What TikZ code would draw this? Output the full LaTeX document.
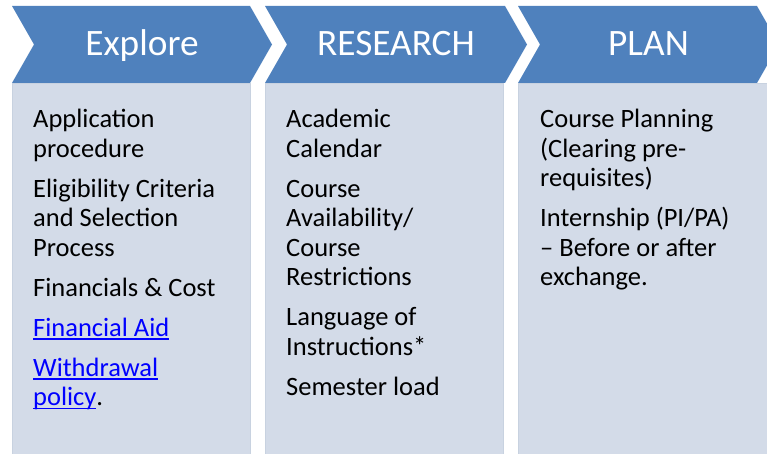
\documentclass[tikz,border=0pt]{standalone}
\usepackage{fontspec}
\setmainfont{Carlito}
\definecolor{chevronblue}{HTML}{4F81BD}
\definecolor{panelfill}{HTML}{D3DBE8}
\definecolor{paneledge}{HTML}{C8D2E0}
\definecolor{linkblue}{HTML}{0000FF}
\newcommand{\weblink}[1]{{\color{linkblue}\setbox0\hbox{#1}\rlap{\rule[-3.5pt]{\wd0}{1.2pt}}\box0}}
\begin{document}
\begin{tikzpicture}[x=1pt,y=-1pt,
  head/.style={anchor=base,text=white,font=\fontsize{37.3}{44}\selectfont},
  body/.style={anchor=north west,align=left,inner sep=0pt,font=\fontsize{26.5}{29.5}\selectfont}]
  \useasboundingbox (0,0) rectangle (767,454);
  \clip (0,0) rectangle (767,454);

  % chevrons, panels and titles
  \foreach \L/\R/\E/\name/\title in {12/250/250/explore/Explore,
                                    265/505/503/research/RESEARCH,
                                    518/757/767/plan/PLAN}{
    \fill[chevronblue] (\L,6) -- (\R,6) -- (\R+22,44.5) -- (\R,83) -- (\L,83) -- (\L+22,44.5) -- cycle;
    \filldraw[fill=panelfill,draw=paneledge] (\L,83) rectangle (\E,460);
    \node[head] (\name) at ({(\L+22+\R)/2},55.5) {\title};
  }

  \node[body] (exploretext) at (33,106.8) {\strut Application\\procedure\\[10.5pt]
    Eligibility Criteria\\and Selection\\Process\\[10.5pt]
    Financials \& Cost\\[10.5pt]
    \weblink{Financial Aid}\\[10.5pt]
    \weblink{Withdrawal}\\\weblink{policy}.};

  \node[body] (researchtext) at (286,106.8) {\strut Academic\\Calendar\\[10.5pt]
    Course\\Availability/\\Course\\Restrictions\\[10.5pt]
    Language of\\Instructions*\\[10.5pt]
    Semester load};

  \node[body] (plantext) at (540,106.8) {\strut Course Planning\\(Clearing pre-\\requisites)\\[10.5pt]
    Internship (PI/PA)\\-- Before or after\\exchange.};
\end{tikzpicture}
\end{document}
